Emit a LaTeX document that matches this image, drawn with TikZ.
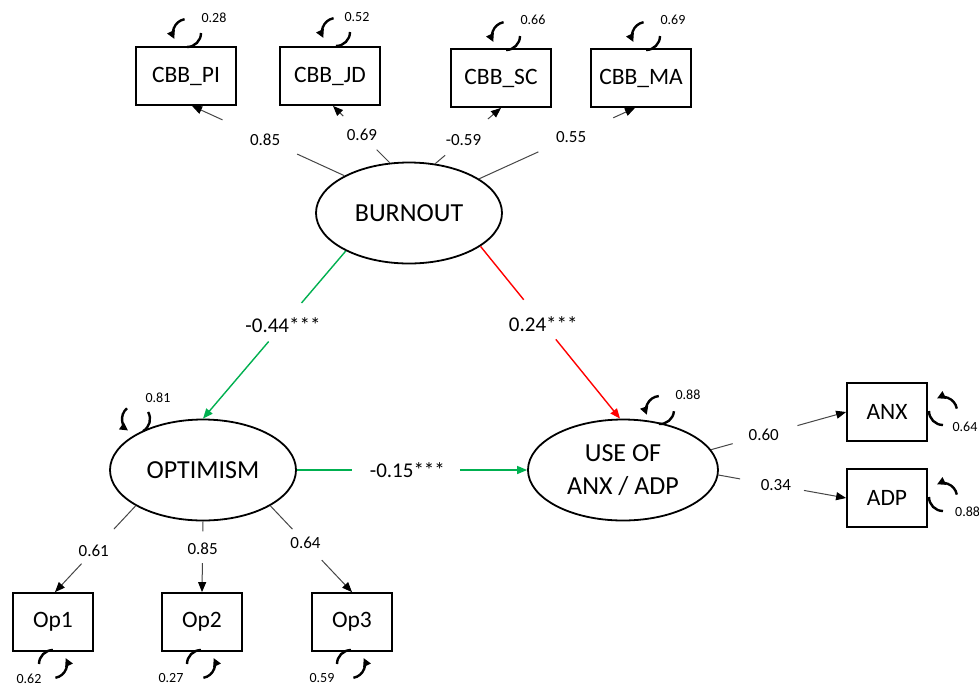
\documentclass[tikz,border=0pt]{standalone}
\usepackage{fontspec}
\setmainfont{Carlito}
\usetikzlibrary{arrows.meta,calc,shapes.geometric}
\definecolor{sgreen}{RGB}{0,176,80}
\definecolor{sred}{RGB}{255,0,0}
\definecolor{cgray}{RGB}{70,70,70}
\tikzset{
  latent/.style={ellipse, draw=black, line width=1.8pt, minimum width=186pt, minimum height=101pt, inner sep=0pt, align=center, font=\fontsize{26}{33}\selectfont},
  obs/.style={rectangle, draw=black, line width=1.8pt, minimum width=100pt, minimum height=58pt, inner sep=0pt, font=\fontsize{23.5}{28}\selectfont},
  obsb/.style={obs, minimum width=80pt},
  conn/.style={draw=cgray, line width=1pt},
  conntip/.style={conn, -{Triangle[length=10pt,width=8pt,fill=black,color=black]}},
  gconn/.style={draw=sgreen, line width=1.4pt},
  gconntip/.style={gconn, -{Triangle[length=10pt,width=8pt]}},
  rconn/.style={draw=sred, line width=1.4pt},
  rconntip/.style={rconn, -{Triangle[length=10pt,width=8pt]}},
  coefbig/.style={inner sep=0pt, font=\fontsize{21}{25}\selectfont},
  coefsm/.style={inner sep=0pt, font=\fontsize{17}{20}\selectfont},
  varlbl/.style={inner sep=0pt, font=\fontsize{14}{17}\selectfont},
  loopline/.style={draw=black, line width=2.4pt},
}
\newcommand{\resloop}[2]{%
  \draw[loopline] ($(#1)+({#2}:14)$) arc[start angle={#2}, end angle={#2-90}, radius=14];
  \draw[loopline,-{Triangle[length=8pt,width=8pt]}] ($(#1)+({#2+170}:14)$) arc[start angle={#2+170}, end angle={#2+65}, radius=14];
}
\newcommand{\gapline}[8]{%
  \path (#2) -- coordinate[pos=#4](ga) node[pos=#5,#8]{#7} coordinate[pos=#6](gb) (#3);
  \draw[#1] (#2) -- (ga);
  \draw[#1tip] (gb) -- (#3);
}
\begin{document}
\begin{tikzpicture}[x=1pt,y=-1pt]
\useasboundingbox (0,0) rectangle (979,686);
\fill[white] (0,0) rectangle (979,686);

% latent variables
\node[latent] (burn) at (409,213) {BURNOUT};
\node[latent] (opt) at (203,470) {OPTIMISM};
\node[latent, minimum width=190pt] (use) at (623,470) {USE OF\\ANX / ADP};

% observed indicators
\node[obs] (pi) at (186,76) {CBB\_PI};
\node[obs] (jd) at (330,76) {CBB\_JD};
\node[obs] (sc) at (501,78) {CBB\_SC};
\node[obs] (ma) at (641,78) {CBB\_MA};
\node[obsb] (anx) at (887,412) {ANX};
\node[obsb] (adp) at (887,498) {ADP};
\node[obsb] (op1) at (53,622) {Op1};
\node[obsb] (op2) at (202,622) {Op2};
\node[obsb] (op3) at (352,622) {Op3};

% loadings
\gapline{conn}{burn.150}{[xshift=6pt]pi.south}{0.31}{0.52}{0.8}{0.85}{coefsm}
\gapline{conn}{burn.111}{[xshift=3pt]jd.south}{0.23}{0.49}{0.82}{0.69}{coefsm}
\gapline{conn}{burn.62}{sc.south}{0.15}{0.43}{0.8}{-0.59}{coefsm}
\gapline{conn}{burn.26}{[xshift=-6pt]ma.south}{0.38}{0.59}{0.86}{0.55}{coefsm}

\gapline{conn}{opt.208}{[xshift=2pt]op1.north}{0.27}{0.52}{0.67}{0.61}{coefsm}
\gapline{conn}{opt.south}{op2.north}{0.14}{0.38}{0.59}{0.85}{coefsm}
\gapline{conn}{opt.332}{op3.north}{0.27}{0.43}{0.63}{0.64}{coefsm}

\gapline{conn}{use.13}{anx.west}{0.16}{0.39}{0.64}{0.60}{coefsm}
\gapline{conn}{use.-3}{adp.west}{0.17}{0.45}{0.67}{0.34}{coefsm}

% structural paths
\gapline{gconn}{burn.211}{opt.north}{0.31}{0.44}{0.54}{-0.44***}{coefbig}
\gapline{rconn}{burn.335}{[xshift=-3pt]use.north}{0.31}{0.45}{0.54}{0.24***}{coefbig}
\gapline{gconn}{opt.east}{use.west}{0.24}{0.48}{0.71}{-0.15***}{coefbig}

% residual loops
\resloop{187,33}{90}
\resloop{336,32}{90}
\resloop{506,36}{90}
\resloop{646,36}{90}
\resloop{136,419}{60}
\resloop{660,410}{95}
\resloop{943,411}{180}
\resloop{943,497}{180}
\resloop{53,664}{-90}
\resloop{201,664}{-90}
\resloop{351,664}{-90}

% residual variances
\node[varlbl] (v1) at (214,18) {0.28};
\node[varlbl] (v2) at (357,17) {0.52};
\node[varlbl] (v3) at (533,20) {0.66};
\node[varlbl] (v4) at (673,20) {0.69};
\node[varlbl] (v5) at (158,398) {0.81};
\node[varlbl] (v6) at (688,395) {0.88};
\node[varlbl] (v7) at (965,427) {0.64};
\node[varlbl, anchor=west] (v8) at (955,512) {0.88};
\node[varlbl] (v9) at (29,679) {0.62};
\node[varlbl] (v10) at (171,678) {0.27};
\node[varlbl] (v11) at (322,678) {0.59};
\end{tikzpicture}
\end{document}
